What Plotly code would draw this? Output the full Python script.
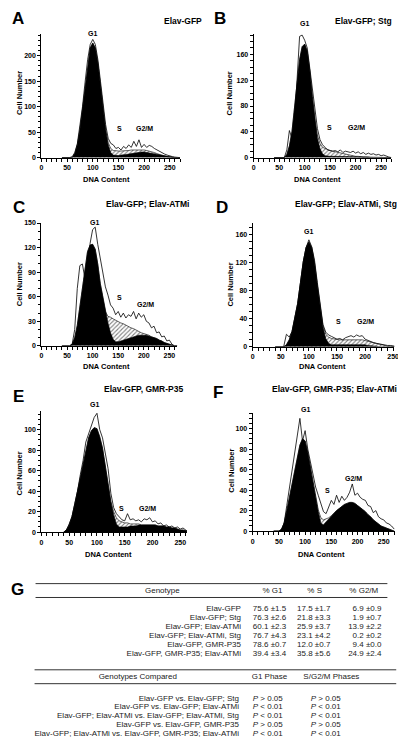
import plotly.graph_objects as go

W, H = 406, 751
FONT = "Liberation Sans, Arial, sans-serif"

# ---------------- data ----------------
DNA_CHANNEL = list(range(40, 275, 5))  # 40..270

A_raw = [0,0,0,0,2,10,28,60,100,148,192,222,232,222,192,150,105,65,38,28,25,18,20,15,22,18,25,20,32,22,35,20,26,20,24,22,18,15,12,10,7,5,3,2,1,0,0]
A_fit = [0,0,0,0,0,8,25,55,95,140,185,215,225,215,185,140,95,55,25,10,5,4,4,5,5,6,7,8,9,10,10,11,11,10,10,9,8,7,5,4,3,2,1,1,0,0,0]
A_model = [0,0,0,0,0,8,25,55,95,140,185,215,225,215,185,140,95,55,30,18,14,13,13,13,13,14,14,15,15,16,16,16,15,14,13,12,10,8,6,5,3,2,1,1,0,0,0]

B_raw = [0,0,0,0,0,12,42,30,58,120,188,190,182,170,140,105,72,45,28,20,16,12,11,10,11,9,12,8,10,9,8,10,7,9,6,8,5,7,5,6,4,5,3,4,2,1,0]
B_fit = [0,0,0,0,0,5,18,40,75,115,152,172,176,165,135,95,58,30,14,6,3,2,2,2,2,2,2,2,2,2,2,2,2,1,1,1,1,1,0,0,0,0,0,0,0,0,0]
B_model = [0,0,0,0,0,5,18,40,75,115,152,172,176,165,135,95,58,35,22,16,14,12,11,10,9,8,7,6,5,4,3,3,2,2,1,1,1,1,0,0,0,0,0,0,0,0,0]

C_raw = [0,0,0,0,2,20,70,98,100,82,90,125,142,145,124,105,88,72,62,50,46,38,42,35,40,34,38,36,42,33,40,35,38,30,28,22,24,16,17,11,12,6,7,2,0,0,0]
C_fit = [0,0,0,0,2,10,25,48,75,98,115,123,124,118,100,76,60,42,28,16,8,5,5,6,7,8,9,10,11,12,13,13,13,13,12,11,10,9,7,6,4,3,2,1,0,0,0]
C_model = [0,0,0,0,2,10,25,48,75,98,115,123,124,118,100,76,60,42,36,35,33,31,30,28,27,25,24,22,21,19,18,16,15,14,13,11,10,9,7,6,4,3,2,1,0,0,0]

D_raw = [0,0,0,0,18,14,22,40,62,92,122,142,153,143,124,92,58,32,21,17,15,13,11,12,10,13,15,16,14,17,15,16,11,9,8,6,5,4,3,3,2,2,1,0,0,0,0]
D_fit = [0,0,0,0,3,10,22,40,62,92,122,142,150,142,120,88,55,28,12,5,3,3,3,4,4,4,4,4,4,4,3,3,3,2,2,1,1,0,0,0,0,0,0,0,0,0,0]
D_model = [0,0,0,0,3,10,22,40,62,92,122,142,150,142,120,88,55,30,18,14,12,11,10,10,10,10,11,11,11,11,11,10,9,8,6,5,4,3,2,2,1,1,0,0,0,0,0]

E_raw = [0,2,8,15,28,40,56,70,88,96,104,112,116,100,92,78,62,38,24,18,15,12,11,18,12,13,11,12,10,13,12,14,10,11,8,9,6,7,5,6,4,5,3,4,2,0,0]
E_fit = [0,2,7,15,27,40,55,68,82,92,99,102,101,93,82,64,46,30,17,8,5,5,5,5,6,6,6,7,7,7,7,7,7,7,6,6,6,5,5,4,4,3,2,2,1,0,0]
E_model = [0,2,7,15,27,40,55,68,82,92,99,102,101,93,82,64,46,30,20,14,11,10,9,9,8,8,8,8,7,7,7,7,7,7,6,6,6,5,5,4,4,3,2,2,1,0,0]

F_raw = [0,0,0,1,8,25,42,58,75,92,110,88,98,80,68,56,43,35,26,19,17,24,30,26,35,28,34,30,33,38,46,35,37,33,31,30,25,24,18,20,14,12,11,8,7,5,2]
F_fit = [0,0,0,2,8,20,33,44,58,72,84,90,88,77,62,48,33,19,8,6,9,12,15,18,20,22,24,26,27,28,28,27,25,23,21,19,16,14,11,9,7,5,4,3,2,1,0]
F_model = [0,0,0,2,8,20,33,44,58,72,84,90,88,77,62,48,33,21,13,11,12,13,15,18,20,22,24,26,27,28,28,27,25,23,21,19,16,14,11,9,7,5,4,3,2,1,0]

PANEL_TITLES = ["Elav-GFP", "Elav-GFP; Stg", "Elav-GFP; Elav-ATMi",
                "Elav-GFP; Elav-ATMi, Stg", "Elav-GFP, GMR-P35", "Elav-GFP, GMR-P35; Elav-ATMi"]
PANEL_LETTERS = ["A", "B", "C", "D", "E", "F"]
PHASE_NAMES = ["G1", "S", "G2/M"]

GENOTYPES = ["Elav-GFP", "Elav-GFP; Stg", "Elav-GFP; Elav-ATMi",
             "Elav-GFP; Elav-ATMi, Stg", "Elav-GFP, GMR-P35", "Elav-GFP, GMR-P35; Elav-ATMi"]
G1_MEAN = [75.6, 76.3, 60.1, 76.7, 78.6, 39.4]
G1_SD = [1.5, 2.6, 2.3, 4.3, 0.7, 3.4]
S_MEAN = [17.5, 21.8, 25.9, 23.1, 12.0, 35.8]
S_SD = [1.7, 3.3, 3.7, 4.2, 0.7, 5.6]
G2M_MEAN = [6.9, 1.9, 13.9, 0.2, 9.4, 24.9]
G2M_SD = [0.9, 0.7, 2.2, 0.2, 0.0, 2.4]

COMPARISONS = ["Elav-GFP vs. Elav-GFP; Stg",
               "Elav-GFP vs. Elav-GFP; Elav-ATMi",
               "Elav-GFP; Elav-ATMi vs. Elav-GFP; Elav-ATMi, Stg",
               "Elav-GFP vs. Elav-GFP, GMR-P35",
               "Elav-GFP; Elav-ATMi vs. Elav-GFP, GMR-P35; Elav-ATMi"]
P_G1 = ["> 0.05", "< 0.01", "< 0.01", "> 0.05", "< 0.01"]
P_SG2M = ["> 0.05", "< 0.01", "< 0.01", "> 0.05", "< 0.01"]

DATA = [(A_raw, A_fit, A_model), (B_raw, B_fit, B_model), (C_raw, C_fit, C_model),
        (D_raw, D_fit, D_model), (E_raw, E_fit, E_model), (F_raw, F_fit, F_model)]

# ---------------- layout (pixel positions) ----------------
GEOM = [
    dict(xpx=(32, 173), ypx=(22, 147), xmax=270, ymax=243, ystep=50, yminor=10,
         letter=(8, 7), title=(197, 9), cell=(9, 82), dna=(98, 169),
         phase=[(100, 244), (153, 58), (200, 58)]),
    dict(xpx=(248, 388), ypx=(22, 147), xmax=270, ymax=192, ystep=40, yminor=10,
         letter=(214, 7), title=(391, 9), cell=(223, 82), dna=(313, 169),
         phase=[(99, 208), (148, 46), (202, 46)]),
    dict(xpx=(32, 170), ypx=(213, 337), xmax=265, ymax=150, ystep=30, yminor=10,
         letter=(9, 197), title=(184, 194), cell=(10, 275), dna=(98, 358),
         phase=[(103, 151), (152, 59), (203, 51)]),
    dict(xpx=(247, 391), ypx=(213, 338), xmax=252, ymax=177, ystep=40, yminor=10,
         letter=(216, 197), title=(396, 194), cell=(224, 275), dna=(318, 358),
         phase=[(100, 165), (152, 36), (201, 36)]),
    dict(xpx=(32, 180), ypx=(403, 525), xmax=262, ymax=118, ystep=20, yminor=5,
         letter=(9, 388), title=(178, 381), cell=(10, 466), dna=(100, 548),
         phase=[(95, 125), (144, 23), (191, 23)]),
    dict(xpx=(247, 392), ypx=(405, 524), xmax=272, ymax=115, ystep=20, yminor=5,
         letter=(212, 384), title=(396, 381), cell=(226, 463), dna=(317, 548),
         phase=[(101, 119), (142, 40), (192, 51)]),
]


def px(x):
    return x / W


def py(y):
    return 1 - y / H


fig = go.Figure()
annotations = []
shapes = []
TICKFONT = dict(family=FONT, size=7, color="black", weight="bold")

for i, ((raw, fit, model), g) in enumerate(zip(DATA, GEOM)):
    n = i + 1
    xa = "x" if n == 1 else f"x{n}"
    ya = "y" if n == 1 else f"y{n}"
    fig.add_trace(go.Scatter(
        x=DNA_CHANNEL, y=model, xaxis=xa, yaxis=ya, mode="lines",
        line=dict(color="black", width=0.6), fill="tozeroy", fillcolor="white",
        fillpattern=dict(shape="/", fgcolor="black", bgcolor="white", size=3, solidity=0.35),
        hoverinfo="skip"))
    fig.add_trace(go.Scatter(
        x=DNA_CHANNEL, y=fit, xaxis=xa, yaxis=ya, mode="lines",
        line=dict(color="black", width=0.6), fill="tozeroy", fillcolor="black",
        hoverinfo="skip"))
    fig.add_trace(go.Scatter(
        x=DNA_CHANNEL, y=raw, xaxis=xa, yaxis=ya, mode="lines",
        line=dict(color="black", width=0.8), hoverinfo="skip"))

    xkey = "xaxis" if n == 1 else f"xaxis{n}"
    ykey = "yaxis" if n == 1 else f"yaxis{n}"
    fig.layout[xkey] = dict(
        domain=[px(g["xpx"][0]), px(g["xpx"][1])], range=[0, g["xmax"]], anchor=ya,
        showline=True, linecolor="black", linewidth=1.3, showgrid=False, zeroline=False,
        ticks="outside", ticklen=3, tickwidth=1, tickcolor="black",
        tickvals=[0, 50, 100, 150, 200, 250], tickfont=TICKFONT,
        minor=dict(dtick=10, tick0=0, ticks="outside", ticklen=3, tickcolor="black", tickwidth=1),
        fixedrange=True)
    yt = list(range(0, int(g["ymax"]) + 1, g["ystep"]))
    fig.layout[ykey] = dict(
        domain=[py(g["ypx"][1]), py(g["ypx"][0])], range=[0, g["ymax"]], anchor=xa,
        showline=True, linecolor="black", linewidth=1.3, showgrid=False, zeroline=False,
        ticks="outside", ticklen=3, tickwidth=1, tickcolor="black",
        tickvals=yt, tickfont=TICKFONT,
        minor=dict(dtick=g["yminor"], tick0=0, ticks="outside", ticklen=2.5, tickcolor="black", tickwidth=1),
        fixedrange=True)

    annotations.append(dict(text=PANEL_LETTERS[i], x=px(g["letter"][0]), y=py(g["letter"][1]),
                            xref="paper", yref="paper", xanchor="center", yanchor="middle",
                            showarrow=False, font=dict(family=FONT, size=17, color="black", weight="bold")))
    annotations.append(dict(text=PANEL_TITLES[i], x=px(g["title"][0]), y=py(g["title"][1]),
                            xref="paper", yref="paper", xanchor="right", yanchor="middle",
                            showarrow=False, font=dict(family=FONT, size=8.5, color="black", weight="bold")))
    annotations.append(dict(text="Cell Number", x=px(g["cell"][0]), y=py(g["cell"][1]),
                            xref="paper", yref="paper", xanchor="center", yanchor="middle", textangle=-90,
                            showarrow=False, font=dict(family=FONT, size=7.5, color="black", weight="bold")))
    annotations.append(dict(text="DNA Content", x=px(g["dna"][0]), y=py(g["dna"][1]),
                            xref="paper", yref="paper", xanchor="center", yanchor="middle",
                            showarrow=False, font=dict(family=FONT, size=7.5, color="black", weight="bold")))
    for name, (vx, vy) in zip(PHASE_NAMES, g["phase"]):
        annotations.append(dict(text=name, x=vx, y=vy / g["ymax"], xref=xa, yref=f"{ya} domain",
                                xanchor="center", yanchor="middle", showarrow=False,
                                font=dict(family=FONT, size=7, color="black", weight="bold")))

# ---------------- table G (text trace on a pixel-based overlay axis) ----------------
TAB_TOP = 565
fig.layout["xaxis7"] = dict(domain=[0, 1], range=[0, W], visible=False, fixedrange=True, anchor="y7")
fig.layout["yaxis7"] = dict(domain=[0, py(TAB_TOP)], range=[H, TAB_TOP], visible=False,
                            fixedrange=True, anchor="x7")

annotations.append(dict(text="G", x=px(8), y=py(583), xref="paper", yref="paper",
                        xanchor="center", yanchor="middle", showarrow=False,
                        font=dict(family=FONT, size=17, color="black", weight="bold")))


def hline(y, x0, x1):
    shapes.append(dict(type="line", xref="paper", yref="paper", x0=px(x0), x1=px(x1),
                       y0=py(y), y1=py(y), line=dict(color="#333333", width=1)))


def text_col(texts, x, ys, pos):
    fig.add_trace(go.Scatter(x=[x] * len(texts), y=ys, text=texts, mode="text",
                             textposition=pos, xaxis="x7", yaxis="y7", cliponaxis=False,
                             textfont=dict(family=FONT, size=8, color="#222222"),
                             hoverinfo="skip"))


hline(577, 26, 384)
hline(591, 26, 384)
text_col(["Genotype"], 155, [584], "middle center")
text_col(["% G1"], 267, [584], "middle center")
text_col(["% S"], 310, [584], "middle center")
text_col(["% G2/M"], 360, [584], "middle center")
rows1 = [603 + 9.0 * k for k in range(len(GENOTYPES))]
text_col(GENOTYPES, 235, rows1, "middle left")
text_col([f"{m:.1f} ±{s:.1f}" for m, s in zip(G1_MEAN, G1_SD)], 281, rows1, "middle left")
text_col([f"{m:.1f} ±{s:.1f}" for m, s in zip(S_MEAN, S_SD)], 326, rows1, "middle left")
text_col([f"{m:.1f} ±{s:.1f}" for m, s in zip(G2M_MEAN, G2M_SD)], 378, rows1, "middle left")

hline(664, 25, 393)
hline(678, 25, 393)
text_col(["Genotypes Compared"], 130, [671], "middle center")
text_col(["G1 Phase"], 264, [671], "middle center")
text_col(["S/G2/M Phases"], 327, [671], "middle center")
rows2 = [693 + 9.0 * k for k in range(len(COMPARISONS))]
text_col(COMPARISONS, 233, rows2, "middle left")
text_col([f"<i>P</i> {p}" for p in P_G1], 247, rows2, "middle right")
text_col([f"<i>P</i> {p}" for p in P_SG2M], 306, rows2, "middle right")
hline(748, 25, 393)

fig.update_layout(width=W, height=H, margin=dict(l=0, r=0, t=0, b=0),
                  paper_bgcolor="white", plot_bgcolor="rgba(0,0,0,0)", showlegend=False,
                  annotations=annotations, shapes=shapes)

fig.write_html("out.html")
